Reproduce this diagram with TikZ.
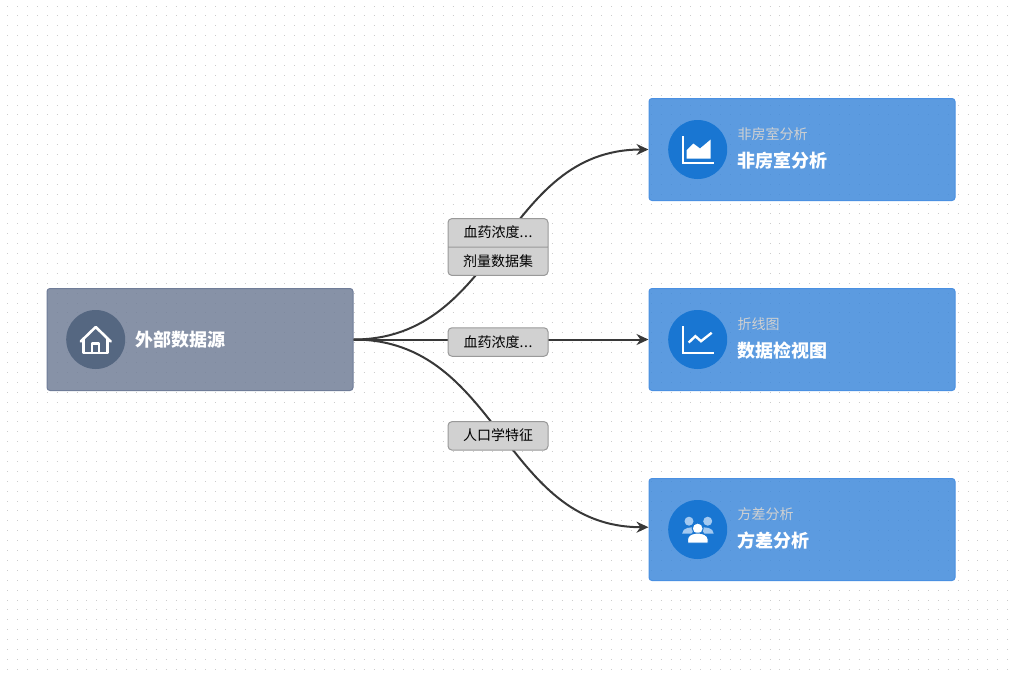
\documentclass[tikz,border=0pt]{standalone}
\usepackage{fontspec}
\setmainfont{Noto Sans CJK SC}
\usepackage{xcolor}
\usetikzlibrary{arrows.meta, positioning, shapes.multipart}

\definecolor{srcfill}{HTML}{727F98}
\definecolor{srcedge}{HTML}{6F7C98}
\definecolor{srcicon}{HTML}{556781}
\definecolor{anafill}{HTML}{3F8ADB}
\definecolor{anaedge}{HTML}{4A90E2}
\definecolor{anaicon}{HTML}{1976D2}
\definecolor{dotgray}{HTML}{CCCCCC}
\definecolor{peoplelt}{HTML}{A3C9F1}

\begin{document}
\begin{tikzpicture}[
  x=1pt, y=-1pt,
  srcbox/.style={rectangle, draw=srcedge, line width=1pt, rounded corners=3pt, fill=srcfill, fill opacity=0.85, draw opacity=1, minimum width=306pt, minimum height=102pt},
  anabox/.style={rectangle, draw=anaedge, line width=1pt, rounded corners=3pt, fill=anafill, fill opacity=0.85, draw opacity=1, minimum width=306pt, minimum height=102pt},
  iconbg/.style={circle, inner sep=0pt, minimum size=59pt},
  subtxt/.style={inner sep=0pt, text=black!18, font=\fontsize{14}{16}\selectfont},
  maintxt/.style={inner sep=0pt, text=white, font=\fontsize{18}{20}\selectfont\bfseries},
  arr/.style={-{Stealth[length=12pt, width=11pt]}, line width=2pt, draw=black!78},
  lbl/.style={rectangle, draw=black!40, line width=1pt, rounded corners=4pt, fill=black!18, text=black, text width=70pt, align=center, inner xsep=15pt, inner ysep=7.75pt, text height=11.5pt, text depth=1.5pt, font=\fontsize{14}{16}\selectfont, xshift=-3pt, yshift=-2.5pt},
  icline/.style={draw=white, line width=2pt},
  dotrow/.style={draw=dotgray, line width=1pt, dash pattern=on 1pt off 8.9pt},
]
\useasboundingbox (0,0) rectangle (1012,675);

% dotted canvas
\foreach \j in {0,...,67} {
  \draw[dotrow] (7.2,6+9.9*\j) -- (1012,6+9.9*\j);
}

% boxes
\node[srcbox] (src) at (200,339.5) {};
\node[anabox] (fei) at (802,149.5) {};
\node[anabox] (zhe) at (802,339.5) {};
\node[anabox] (fang) at (802,529.5) {};
\coordinate[above=2.3pt of fang.west] (fangin);

% icon circles
\node[iconbg, fill=srcicon, right=19.5pt of src.west] (srcic) {};
\node[iconbg, fill=anaicon, right=19.5pt of fei.west] (feiic) {};
\node[iconbg, fill=anaicon, right=19.5pt of zhe.west] (zheic) {};
\node[iconbg, fill=anaicon, right=19.5pt of fang.west] (fangic) {};

% texts
\node[maintxt, right=10pt of srcic] (srctxt) {外部数据源};
\node[subtxt, right=10pt of feiic, yshift=15pt] (feisub) {非房室分析};
\node[maintxt, right=10pt of feiic, yshift=-11pt] (feitxt) {非房室分析};
\node[subtxt, right=10pt of zheic, yshift=15pt] (zhesub) {折线图};
\node[maintxt, right=10pt of zheic, yshift=-11pt] (zhetxt) {数据检视图};
\node[subtxt, right=10pt of fangic, yshift=15pt] (fangsub) {方差分析};
\node[maintxt, right=10pt of fangic, yshift=-11pt] (fangtxt) {方差分析};

% house
\begin{scope}[shift={(srcic.center)}]
  \draw[icline, line width=2.6pt, line cap=round, line join=round] (-15,2) -- (0,-12.5) -- (15,2);
  \draw[icline, line width=2.6pt, line cap=round, line join=round] (-12,-1) -- (-12,13.5) -- (12,13.5) -- (12,-1);
  \draw[icline, line width=2.2pt, line join=round] (-3.7,13.5) -- (-3.7,4) -- (3.5,4) -- (3.5,13.5);
\end{scope}

% area chart
\begin{scope}[shift={(feiic.center)}]
  \draw[icline] (-15,-13.5) -- (-15,13.5) -- (16.5,13.5);
  \fill[white] (-11,9) -- (-11,0.7) -- (-4.3,-6) -- (2.3,-1) -- (13,-10) -- (13,9) -- cycle;
\end{scope}

% line chart
\begin{scope}[shift={(zheic.center)}]
  \draw[icline] (-15,-13.5) -- (-15,13.5) -- (16.5,13.5);
  \draw[icline, line width=2.4pt] (-9,3) -- (-2.3,-3.3) -- (3.3,1.7) -- (14,-6.7);
\end{scope}

% people
\begin{scope}[shift={(fangic.center)}]
  \fill[peoplelt] (-8.7,-8.3) circle (4.5pt);
  \fill[peoplelt] (10,-8.3) circle (4.5pt);
  \fill[peoplelt] (-15.5,4) .. controls (-15.5,-2) and (-6,-3) .. (-3,-1.5) -- (-6,4) -- cycle;
  \fill[peoplelt] (16,4) .. controls (16,-2) and (6.5,-3) .. (3.5,-1.5) -- (6.5,4) -- cycle;
  \filldraw[fill=white, draw=anaicon, line width=1pt] (0,-1) circle (5.5pt);
  \filldraw[fill=white, draw=anaicon, line width=1pt] (-10.2,13.5) -- (-10.2,10) .. controls (-10.2,5.5) and (-5,3.5) .. (0,3.5) .. controls (5,3.5) and (10.5,5.5) .. (10.5,10) -- (10.5,13.5) -- cycle;
\end{scope}

% connectors with their labels
\draw[arr] (src.east) to[out=0, in=180, looseness=1.07] node[lbl, inner ysep=7.25pt, rectangle split, rectangle split parts=2] {血药浓度.\hspace{0.6pt}.\hspace{0.6pt}.\nodepart{two}剂量数据集} (fei.west);
\draw[arr] (src.east) -- node[lbl] {血药浓度.\hspace{0.6pt}.\hspace{0.6pt}.} (zhe.west);
\draw[arr] (src.east) to[out=0, in=180, looseness=1.07] node[lbl] {人口学特征} (fangin);

\end{tikzpicture}
\end{document}
